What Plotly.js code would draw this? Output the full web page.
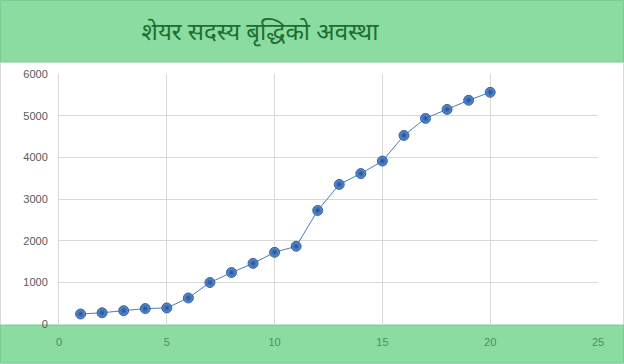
<!DOCTYPE html>
<html>
<head>
<meta charset="utf-8">
<script src="https://cdn.plot.ly/plotly-3.0.1.min.js"></script>
<style>html,body{margin:0;padding:0;background:#fff;}#chart{width:624px;height:364px;}</style>
</head>
<body>
<div id="chart"></div>
<script>
const titleText = "शेयर सदस्य बृद्धिको अवस्था";
const xValues = [1,2,3,4,5,6,7,8,9,10,11,12,13,14,15,16,17,18,19,20];
const memberCounts = [240,270,320,370,385,625,995,1235,1455,1720,1865,2725,3350,3610,3910,4525,4935,5150,5370,5560];
const xTicks = [0,5,10,15,20,25];
const yTicks = [0,1000,2000,3000,4000,5000,6000];

const W = 624, H = 364;
const mL = 59, mR = 26, mT = 74, mB = 40;
const pw = W - mL - mR, ph = H - mT - mB;
const px = v => (v - mL) / pw;          // pixel x -> paper x
const py = v => (H - mB - v) / ph;      // pixel y -> paper y
const green = '#8ADCA0', greenLine = '#7CCB92';

const trace = {
  x: xValues, y: memberCounts, type: 'scatter', mode: 'lines+markers',
  line: {color: '#4A7EBB', width: 1},
  marker: {size: 10, color: '#5E93DA',
    line: {color: '#1F4A85', width: 0.8},
    gradient: {type: 'radial', color: '#234F93'}},
  hoverinfo: 'x+y'
};

const layout = {
  width: W, height: H,
  margin: {l: mL, r: mR, t: mT, b: mB, pad: 0},
  paper_bgcolor: '#ffffff', plot_bgcolor: '#ffffff',
  showlegend: false,
  title: {text: titleText, x: 260 / W, xanchor: 'center', xref: 'container',
    y: 1 - 32 / H, yanchor: 'middle', yref: 'container',
    font: {family: 'Noto Sans, Noto Sans Devanagari, Lohit Devanagari, sans-serif', size: 24, color: '#1E6E30'}},
  xaxis: {range: [0, 25], tickvals: xTicks, ticktext: xTicks.map(String),
    showgrid: true, gridcolor: '#D9D9D9', gridwidth: 1, zeroline: false,
    showline: false, ticks: '', ticklen: 0, ticklabelstandoff: 10,
    tickfont: {family: 'Liberation Sans, Arial, sans-serif', size: 11, color: '#4E8F5C'}},
  yaxis: {range: [0, 6000], tickvals: yTicks, ticktext: yTicks.map(String),
    showgrid: true, gridcolor: '#D9D9D9', gridwidth: 1, zeroline: false,
    showline: true, linecolor: '#D9D9D9', linewidth: 1, ticks: '', ticklen: 0,
    ticklabelstandoff: 8,
    tickfont: {family: 'Liberation Sans, Arial, sans-serif', size: 11, color: '#595959'}},
  shapes: [
    {type: 'rect', xref: 'paper', yref: 'paper', layer: 'below',
      x0: px(0.5), x1: px(W - 0.5), y0: py(H - 0.5), y1: py(0.5),
      fillcolor: 'rgba(0,0,0,0)', line: {color: '#D9D9D9', width: 1}},
    {type: 'rect', xref: 'paper', yref: 'paper', layer: 'below',
      x0: px(0.5), x1: px(W - 0.5), y0: py(62), y1: py(0.5),
      fillcolor: green, line: {color: greenLine, width: 1}},
    {type: 'rect', xref: 'paper', yref: 'paper', layer: 'below',
      x0: px(0.5), x1: px(W - 0.5), y0: py(H - 1), y1: py(325),
      fillcolor: green, line: {color: greenLine, width: 1}}
  ]
};

Plotly.newPlot('chart', [trace], layout, {displayModeBar: false, staticPlot: true});
</script>
</body>
</html>
